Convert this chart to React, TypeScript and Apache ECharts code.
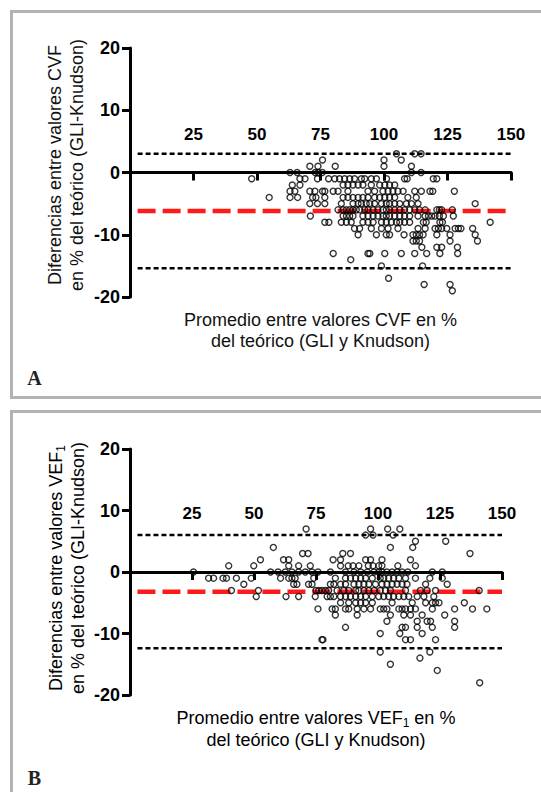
import React, { useEffect, useRef } from "react";
import * as echarts from "echarts";

const FONT = "'Liberation Sans', Arial, sans-serif";

// axis ranges / ticks
const xTicks = [0, 25, 50, 75, 100, 125, 150];
const yTicks = [-20, -10, 0, 10, 20];

// Panel A (CVF): difference value -> list of averages
const cvfRows: [number, number[]][] = [
  [3, [104.9, 112.1, 114.6]],
  [2, [75.8, 100, 106.8]],
  [1, [70.8, 74, 80.8, 100, 110.8]],
  [0, [63, 65.8, 72.9, 74.1, 75.7, 110.8, 114.6]],
  [-1, [47.9, 66.9, 68.9, 73.8, 78.2, 80.6, 82.5, 84.5, 86.5, 88.4, 91.1, 92.4, 95, 97, 101, 108.1, 109.1, 119.4, 120.8]],
  [-2, [63.9, 66.9, 83.9, 85.8, 87.8, 89.8, 91.7, 95, 98.3, 100.3, 102.2, 104.2]],
  [-3, [63, 64.9, 70.8, 72.8, 75.8, 76.7, 80, 81.9, 85.8, 93.7, 96.3, 99.6, 101.6, 103.5, 105.5, 107.5, 112.1, 114.7, 118.1, 119.2, 127.7]],
  [-4, [54.8, 63, 66, 71.9, 73.2, 76.7, 83.9, 85.8, 87.8, 89.8, 91.7, 93.7, 96.3, 98.3, 100.3, 102.2, 104.2, 109.4, 112.7]],
  [-5, [70.8, 73.8, 76.7, 83.2, 87.8, 89.8, 91.1, 93.0, 94.4, 96.3, 99, 100.9, 102.2, 104.2, 106.2, 108.8, 110.8, 113.4, 135.9]],
  [-6, [81.9, 83.9, 85.2, 86.5, 87.8, 89.1, 90.4, 92.4, 93.7, 95.7, 97.6, 99.6, 100.9, 102.2, 104.2, 106.2, 108.1, 110.1, 112.1, 114.0, 116.2, 120.8, 121.8, 122.7, 126.9]],
  [-7, [71, 83.9, 85.2, 86.5, 87.8, 91.7, 93.7, 95.7, 97.6, 99.6, 100.9, 102.2, 104.2, 106.2, 108.1, 110.1, 113.4, 116.2, 117.5, 118.8, 120.1, 121.8, 123.4, 127.3]],
  [-8, [76.7, 78.3, 83.2, 85.2, 87.1, 91.7, 93.7, 95.7, 99, 100.9, 102.9, 104.9, 106.2, 108.1, 110.1, 115.5, 116.6, 122, 123, 141.8]],
  [-9, [88.4, 90.4, 95, 99, 101.6, 105.5, 113.4, 116.2, 120.1, 121.4, 122.7, 124.7, 128, 129.3, 130.3, 134.9]],
  [-10, [89.8, 97, 100.9, 102.2, 107.9, 111.4, 112.7, 114.0, 115.4, 120.8, 126, 135.9]],
  [-11, [111.4, 112.7, 114, 126, 136.8]],
  [-12, [114.9, 120.8, 122.7, 128.9]],
  [-13, [80, 93.7, 94.4, 100.3, 106.8, 112.1, 116.8, 122, 129]],
  [-14, [86.9]],
  [-15, [99, 115.2]],
  [-17, [101.8]],
  [-18, [115.8, 126]],
  [-19, [126.9]],
];

// Panel B (VEF1): difference value -> list of averages
const vefRows: [number, number[]][] = [
  [7, [71, 97, 103.9, 108.8]],
  [6, [95, 98, 106.1]],
  [5, [115.1, 127.3]],
  [4, [57.8, 105, 114]],
  [3, [69.6, 71.8, 85.8, 88.9, 137.1]],
  [2, [52.6, 61.9, 64, 81.9, 84.9, 95, 97, 101.6, 113.1]],
  [1, [39.8, 49.9, 64, 68, 72.7, 84.9, 88, 89.9, 92.3, 96.1, 98, 100.3, 101.6, 108, 115.1]],
  [0, [25.6, 56.7, 59.7, 62.6, 65.3, 68, 70.7, 73.4, 75.8, 80.8, 86.9, 90.3, 93, 95.7, 98.4, 100.3, 101.6, 103.6, 105.7, 107.7, 109.7, 112, 121.9, 125.9]],
  [-1, [31.7, 33.7, 37.5, 38.9, 42.9, 48.9, 60.7, 64, 65.3, 66.6, 74.1, 82.8, 86.9, 88.9, 91, 93, 95, 97.7, 100.9, 102.3, 104.3, 106.3, 108.4, 111.1, 115.1, 120.9, 125.9]],
  [-2, [45.9, 66, 67.3, 72.0, 73.4, 80.8, 82.2, 84.9, 86.9, 90.3, 92.3, 94.3, 96.3, 99, 101.6, 103.6, 105.7, 107.7, 109.7, 111.7, 119.2, 127.9]],
  [-3, [40.9, 51.8, 75, 76.1, 77.4, 78.8, 80.1, 83.5, 86.2, 88.2, 91, 92.3, 94.3, 96.3, 98.4, 100.9, 103, 105, 111.1, 117.1, 119.8, 123.2, 140.8]],
  [-4, [50.9, 62.9, 68, 74.7, 79.5, 80.8, 82.2, 84.9, 86.9, 88.9, 91, 93, 95, 97.7, 100.3, 102.3, 104.3, 106.3, 108.4, 110.4, 112.4, 115.8, 118.5, 122.5]],
  [-5, [84.9, 88.2, 91, 93, 95, 97.7, 105.7, 113.8, 119.2, 121.9, 123.2, 124.6, 134.8]],
  [-6, [75.8, 81.5, 82.8, 86.9, 88.2, 91.6, 94.3, 97, 100.9, 102.3, 103.6, 108.4, 109.7, 111.1, 113.1, 115.1, 121.9, 130.9, 138.1, 143.9]],
  [-7, [82.8, 91.6, 105, 110.4, 113.1, 117.8, 126.9]],
  [-8, [103.6, 115.8, 119.8, 121.2, 130.9]],
  [-9, [86.9, 109.7, 111.1, 115.8, 121.9, 130.9]],
  [-10, [100.9, 108.8, 117.8]],
  [-11, [77.4, 77.8, 111.1, 113.1, 123.2]],
  [-13, [100.9, 120.9]],
  [-14, [116.9]],
  [-15, [105]],
  [-16, [123.9]],
  [-18, [141]],
];

// limits of agreement: [upper, mean, lower]
const cvfLimits = [3.0, -6.2, -15.4];
const vefLimits = [6.0, -3.2, -12.4];
const limitSpan = [3, 150];

const toPoints = (rows: [number, number[]][]) =>
  rows.flatMap(([d, xs]) => xs.map((x) => [x, d]));

export default function App() {
  const ref = useRef<HTMLDivElement>(null);

  useEffect(() => {
    if (!ref.current) return;
    const chart = echarts.init(ref.current, undefined, { renderer: "svg" });

    const grids = [
      { left: 130, top: 48, width: 381, height: 249 },
      { left: 130, top: 449, width: 372, height: 246 },
    ];
    const labelMargins = [154, 173];

    const xAxis = grids.map((_, i) => ({
      gridIndex: i,
      type: "value",
      min: xTicks[0],
      max: xTicks[xTicks.length - 1],
      interval: 25,
      axisLine: { show: true, onZero: true, lineStyle: { color: "#000", width: 3 } },
      axisTick: { show: true, length: 8, lineStyle: { color: "#000", width: 3 } },
      axisLabel: {
        inside: true,
        margin: labelMargins[i],
        showMinLabel: false,
        color: "#000",
        fontSize: 17,
        fontWeight: "bold",
        fontFamily: FONT,
      },
      splitLine: { show: false },
    }));

    const yAxis = grids.map((_, i) => ({
      gridIndex: i,
      type: "value",
      min: yTicks[0],
      max: yTicks[yTicks.length - 1],
      interval: 10,
      axisLine: { show: true, onZero: false, lineStyle: { color: "#000", width: 3 } },
      axisTick: { show: true, length: 8, lineStyle: { color: "#000", width: 3 } },
      axisLabel: {
        margin: 10,
        color: "#000",
        fontSize: 18,
        fontWeight: "bold",
        fontFamily: FONT,
      },
      splitLine: { show: false },
    }));

    const limitSeries = (limits: number[], idx: number) =>
      limits.map((v, k) => ({
        type: "line",
        xAxisIndex: idx,
        yAxisIndex: idx,
        data: limitSpan.map((x) => [x, v]),
        symbol: "none",
        silent: true,
        z: 1,
        lineStyle:
          k === 1
            ? { color: "#ff1a1a", width: 4.5, type: [18, 7] }
            : { color: "#000", width: 2.5, type: [5, 3] },
      }));

    const scatter = (rows: [number, number[]][], idx: number) => ({
      type: "scatter",
      xAxisIndex: idx,
      yAxisIndex: idx,
      data: toPoints(rows),
      symbol: "circle",
      symbolSize: 6,
      z: 3,
      itemStyle: { color: "rgba(0,0,0,0)", borderColor: "#000", borderWidth: 1.4 },
    });

    const nameStyle = { fontSize: 18, fontFamily: FONT, fill: "#111" };
    const rich = {
      n: { fontSize: 18, fontFamily: FONT, lineHeight: 22, color: "#111" },
      s: { fontSize: 12, fontFamily: FONT, lineHeight: 14, verticalAlign: "bottom", color: "#111" },
    };

    chart.setOption({
      animation: false,
      backgroundColor: "#fff",
      grid: grids,
      xAxis,
      yAxis,
      series: [
        ...limitSeries(cvfLimits, 0),
        scatter(cvfRows, 0),
        ...limitSeries(vefLimits, 1),
        scatter(vefRows, 1),
      ],
      graphic: [
        {
          type: "rect",
          z: 0,
          shape: { x: 11.5, y: 11.5, width: 545, height: 386 },
          style: { fill: "none", stroke: "#b3b3b3", lineWidth: 3 },
        },
        {
          type: "rect",
          z: 0,
          shape: { x: 11.5, y: 411.5, width: 545, height: 400 },
          style: { fill: "none", stroke: "#b3b3b3", lineWidth: 3 },
        },
        {
          type: "text",
          x: 34.5,
          y: 378,
          style: {
            text: "A",
            fontSize: 20,
            fontWeight: "bold",
            fontFamily: "'Liberation Serif', 'Times New Roman', serif",
            fill: "#222",
            align: "center",
            verticalAlign: "middle",
          },
        },
        {
          type: "text",
          x: 34.5,
          y: 778,
          style: {
            text: "B",
            fontSize: 20,
            fontWeight: "bold",
            fontFamily: "'Liberation Serif', 'Times New Roman', serif",
            fill: "#222",
            align: "center",
            verticalAlign: "middle",
          },
        },
        {
          type: "text",
          x: 320.5,
          y: 330,
          style: {
            ...nameStyle,
            text: "Promedio entre valores CVF en %\ndel teórico (GLI y Knudson)",
            lineHeight: 21,
            align: "center",
            verticalAlign: "middle",
          },
        },
        {
          type: "text",
          x: 316,
          y: 729,
          style: {
            text: "{n|Promedio entre valores VEF}{s|1}{n| en %}\n{n|del teórico (GLI y Knudson)}",
            rich,
            align: "center",
            verticalAlign: "middle",
          },
        },
        {
          type: "text",
          x: 66,
          y: 165,
          rotation: Math.PI / 2,
          style: {
            ...nameStyle,
            text: "Diferencias entre valores CVF\nen % del teórico (GLI-Knudson)",
            lineHeight: 22,
            align: "center",
            verticalAlign: "middle",
          },
        },
        {
          type: "text",
          x: 67,
          y: 568,
          rotation: Math.PI / 2,
          style: {
            text: "{n|Diferencias entre valores VEF}{s|1}\n{n|en % del teórico (GLI-Knudson)}",
            rich,
            align: "center",
            verticalAlign: "middle",
          },
        },
      ],
    });

    return () => chart.dispose();
  }, []);

  return (
    <div
      ref={ref}
      style={{ position: "absolute", left: 0, top: 0, width: 541, height: 792 }}
    />
  );
}
